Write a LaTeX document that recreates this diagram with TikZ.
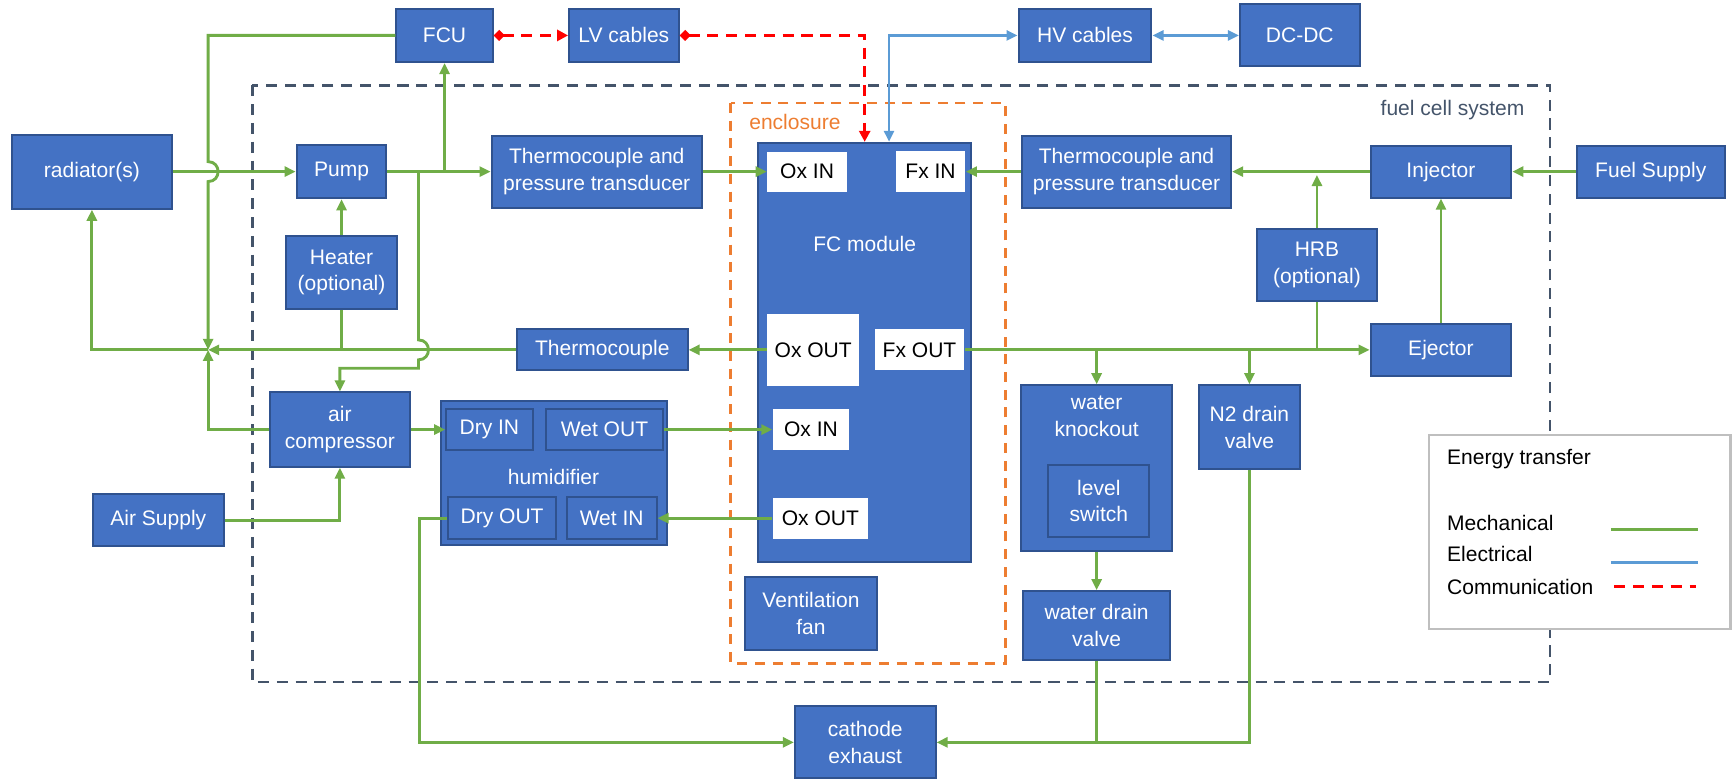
\documentclass[tikz,border=0pt]{standalone}
\usepackage{fontspec}
\setmainfont{Liberation Sans}
\usetikzlibrary{arrows.meta,calc,positioning}

\definecolor{boxblue}{HTML}{4472C4}
\definecolor{boxedge}{HTML}{2F528F}
\definecolor{mechgreen}{HTML}{70AD47}
\definecolor{elecblue}{HTML}{5B9BD5}
\definecolor{slate}{HTML}{44546A}
\definecolor{encorange}{HTML}{ED7D31}

\tikzset{
  sz/.style 2 args={minimum width=#1*0.5pt, minimum height=#2*0.5pt},
  blk/.style={draw=boxedge, line width=0.9pt, fill=boxblue, text=white, align=center, inner sep=0pt},
  port/.style={fill=white, text=black, align=center, inner sep=0pt},
  lbl/.style={text=white, inner sep=0pt},
  mech/.style={draw=mechgreen, line width=1.3pt},
  elec/.style={draw=elecblue, line width=1.3pt},
  comm/.style={draw=red, line width=1.4pt, dash pattern=on 5pt off 3.5pt},
}

\begin{document}
\begin{tikzpicture}[x=0.5pt, y=-0.5pt, font=\fontsize{9.5}{12}\selectfont,
    >={Triangle[length=5pt,width=4.5pt]}]
    \useasboundingbox (0,0) rectangle (1568,703);

    % system and enclosure boundaries
    \draw[slate, line width=1.2pt, dash pattern=on 5pt off 3.5pt] (228,77) rectangle (1400,616);
    \node[text=slate, anchor=east] (syslbl) at (1384,99) {fuel cell system};
    \draw[encorange, line width=1.2pt, dash pattern=on 4.5pt off 3.5pt] (660,93) rectangle (908,599);
    \node[text=encorange] (enclbl) at (718,110) {enclosure};

    % top row
    \node[blk, sz={87}{48}] (fcu) at (401.5,32) {FCU};
    \node[blk, sz={99}{48}] (lv) at (563.5,32) {LV cables};
    \node[blk, sz={120}{48}] (hv) at (980,32) {HV cables};
    \node[blk, sz={108}{56}] (dcdc) at (1174,32) {DC-DC};

    % coolant and air side
    \node[blk, sz={144}{67}] (radiator) at (83,155) {radiator(s)};
    \node[blk, sz={81}{48}] (pump) at (308.5,155) {Pump};
    \node[blk, sz={190}{65}] (tpL) at (539,155) {Thermocouple and\\pressure transducer};
    \node[blk, sz={101}{66}] (heater) at (308.5,246) {Heater\\(optional)};
    \node[blk, sz={154}{37}] (thermo) at (544,316) {Thermocouple};
    \node[blk, sz={126}{67}] (aircomp) at (307,388) {air\\compressor};
    \node[blk, sz={118}{47}] (airsup) at (143,470) {Air Supply};

    \node[blk, sz={204}{130}] (hum) at (500,427) {};
    \node[lbl] (humlbl) at (500,431) {humidifier};
    \node[blk, sz={78}{37}] (dryin) at (442,388) {Dry IN};
    \node[blk, sz={106}{37}] (wetout) at (546,388) {Wet OUT};
    \node[blk, sz={97}{38}] (dryout) at (453.5,468) {Dry OUT};
    \node[blk, sz={81}{38}] (wetin) at (552.5,468) {Wet IN};

    % FC module
    \node[blk, sz={192}{379}] (fc) at (781,318.5) {};
    \node[lbl] (fclbl) at (781,220) {FC module};
    \node[port, sz={72}{36}] (oxinA) at (729,155) {Ox IN};
    \node[port, sz={63}{37}] (fxin) at (840.5,155) {Fx IN};
    \node[port, sz={83}{65}] (oxoutA) at (734.5,316) {Ox OUT};
    \node[port, sz={81}{37}] (fxout) at (830.5,316) {Fx OUT};
    \node[port, sz={69}{37}] (oxinB) at (732.5,388) {Ox IN};
    \node[port, sz={86}{37}] (oxoutB) at (741,468) {Ox OUT};
    \node[blk, sz={119}{66}] (vent) at (732.5,554) {Ventilation\\fan};

    % fuel side
    \node[blk, sz={189}{65}] (tpR) at (1017.5,155) {Thermocouple and\\pressure transducer};
    \node[blk, sz={127}{47}] (injector) at (1301.5,155) {Injector};
    \node[blk, sz={134}{47}] (fuelsup) at (1491,155) {Fuel Supply};
    \node[blk, sz={109}{65}] (hrb) at (1189.5,239.5) {HRB\\(optional)};
    \node[blk, sz={127}{47}] (ejector) at (1301.5,316) {Ejector};
    \node[blk, sz={137}{150}] (wko) at (990.5,423) {};
    \node[lbl, align=center] (wkolbl) at (990.5,376) {water\\knockout};
    \node[blk, sz={91}{65}] (lvl) at (992.5,452.5) {level\\switch};
    \node[blk, sz={133}{62}] (wdv) at (990.5,565) {water drain\\valve};
    \node[blk, sz={91}{76}] (n2) at (1128.5,386) {N2 drain\\valve};
    \node[blk, sz={127}{65}] (cathode) at (781.5,670.5) {cathode\\exhaust};

    % junctions
    \coordinate (mix) at (188,316);
    \coordinate (hopA) at (mix |- radiator.east);
    \coordinate (hopB) at (378,316);

    % mechanical
    \draw[mech,->] (fcu.west) -| ($(hopA)+(0,-9)$) .. controls +(12,0) and +(12,0) .. ($(hopA)+(0,9)$) -- (mix);
    \draw[mech,->] (radiator.east) -- (pump.west);
    \draw[mech,->] (pump.east) -- (tpL.west);
    \draw[mech,->] (pump.east -| fcu.south) -- (fcu.south);
    \draw[mech,->] (hopB |- pump.east) -- ($(hopB)+(0,-9)$) .. controls +(12,0) and +(12,0) .. ($(hopB)+(0,9)$) |- ($(aircomp.north)+(0,-21)$) -- (aircomp.north);
    \draw[mech,->] (heater.north) -- (pump.south);
    \draw[mech] (heater.south) -- (heater.south |- thermo.west);
    \draw[mech,->] (thermo.west) -- (mix);
    \draw[mech,->] (aircomp.west) -| (mix);
    \draw[mech,->] (mix) -| (radiator.south);
    \draw[mech,->] (airsup.east) -| (aircomp.south);
    \draw[mech,->] (aircomp.east) -- (dryin.west);
    \draw[mech,->] (wetout.east) -- (oxinB.west);
    \draw[mech,->] (oxoutB.west) -- (wetin.east);
    \draw[mech,->] (dryout.west) -- ++(-25,0) |- (cathode.west);
    \draw[mech,->] (tpL.east) -- (oxinA.west);
    \draw[mech,->] (oxoutA.west) -- (thermo.east);
    \draw[mech,->] (tpR.west) -- (fxin.east);
    \draw[mech,->] (injector.west) -- (tpR.east);
    \draw[mech,->,shorten >=1.5pt] (hrb.north) -- (hrb.north |- injector.west);
    \draw[mech,->] (fuelsup.west) -- (injector.east);
    \draw[mech,->] (ejector.north) -- (injector.south);
    \draw[mech,->] (fxout.east) -- (ejector.west);
    \draw[mech] (hrb.south) -- (hrb.south |- ejector.west);
    \draw[mech,->] (wko.north |- fxout.east) -- (wko.north);
    \draw[mech,->] (n2.north |- fxout.east) -- (n2.north);
    \draw[mech,->] (wko.south) -- (wdv.north);
    \draw[mech,->] (n2.south) |- (cathode.east);
    \draw[mech] (wdv.south) -- (wdv.south |- cathode.east);

    % electrical
    \draw[elec,<->] ($(fc.north)+(22,0)$) |- (hv.west);
    \draw[elec,<->] (hv.east) -- (dcdc.west);

    % communication
    \draw[comm,{Diamond[length=5pt,width=5pt]}-{Triangle[length=5pt,width=5pt]}] (fcu.east) -- (lv.west);
    \draw[comm,{Diamond[length=5pt,width=5pt]}-{Triangle[length=5pt,width=5pt]}] (lv.east) -| (fc.north);

    % legend
    \node[draw=black!25, line width=1pt, fill=white, sz={272}{175}] (legend) at (1427,480.5) {};
    \node[anchor=west] (legtitle) at (1300,415) {Energy transfer};
    \node[anchor=west] (legmech) at (1300,472) {Mechanical};
    \node[anchor=west] (legelec) at (1300,500) {Electrical};
    \node[anchor=west] (legcomm) at (1300,530) {Communication};
    \draw[mech] (1455,478) -- (1534,478);
    \draw[elec] (1455,508) -- (1534,508);
    \draw[comm] (1458,530) -- (1532,530);
\end{tikzpicture}
\end{document}
